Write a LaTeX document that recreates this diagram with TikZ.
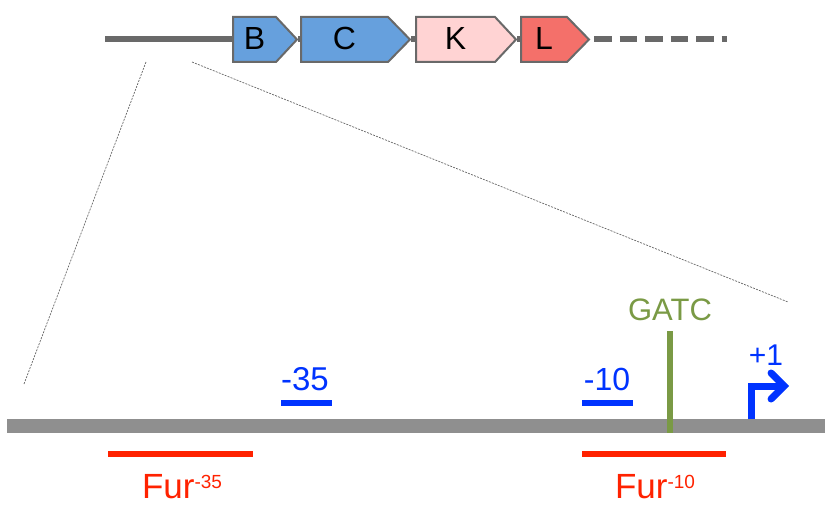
\documentclass[tikz,border=0pt]{standalone}
\usepackage{fontspec}
\setmainfont{Liberation Sans}
\usetikzlibrary{arrows.meta}
\definecolor{geneblue}{RGB}{102,160,221}
\definecolor{genepink}{RGB}{255,211,211}
\definecolor{genered}{RGB}{244,112,106}
\definecolor{geneline}{RGB}{105,105,105}
\definecolor{dnagray}{RGB}{143,143,143}
\definecolor{boxblue}{RGB}{0,51,255}
\definecolor{furred}{RGB}{255,34,0}
\definecolor{damgreen}{RGB}{122,154,69}

\begin{document}
\begin{tikzpicture}[x=1pt,y=-1pt,
  gene/.style={draw=geneline,line width=2pt,line join=miter},
  genelabel/.style={anchor=base,inner sep=0pt,font=\fontsize{32}{36}\selectfont},
  backbone/.style={draw=geneline,line width=6pt},
  zoomline/.style={draw=black!60,line width=0.7pt,dash pattern=on 2pt off 1.2pt},
  dna/.style={draw=dnagray,line width=14pt},
  boxbar/.style={draw=boxblue,line width=6pt},
  furbar/.style={draw=furred,line width=6pt},
  boxlabel/.style={anchor=base,inner sep=0pt,text=boxblue},
  furlabel/.style={anchor=base,inner sep=0pt,text=furred,font=\fontsize{35}{40}\selectfont}]
  \useasboundingbox (0,0) rectangle (825,508);

  % gene map
  \coordinate (start) at (105,39.5);
  \coordinate (dash-end) at (727,39.5);
  \foreach \name/\xa/\xb/\xc/\col in {B/233/276/297/geneblue,C/301/388/410/geneblue,
                                      K/416/495/516/genepink,L/521/567/589/genered}
    {\pgfmathsetmacro{\xm}{(\xa+\xb)/2}
     \draw[gene,fill=\col] (\xa,17) -- (\xb,17) -- (\xc,39.5) -- (\xb,62) -- (\xa,62) -- cycle;
     \coordinate (\name-in) at (\xa-1,39.5);
     \coordinate (\name-out) at (\xc+1,39.5);
     \node[genelabel] (\name) at (\xm,50) {\name};}
  \draw[backbone] (start) -- (B-in);
  \draw[backbone] (B-out) -- (C-in);
  \draw[backbone] (C-out) -- (K-in);
  \draw[backbone] (K-out) -- (L-in);
  \draw[backbone,dash pattern=on 17.5pt off 8pt] ([xshift=4pt]L-out) -- (dash-end);

  % zoom lines
  \coordinate (zl-top) at (146,62);
  \coordinate (zl-bot) at (24,384);
  \coordinate (zr-top) at (192,62);
  \coordinate (zr-bot) at (788,302);
  \draw[zoomline] (zl-top) -- (zl-bot);
  \draw[zoomline] (zr-top) -- (zr-bot);

  % promoter region
  \coordinate (dna-w) at (7,426);
  \coordinate (dna-e) at (825,426);
  \draw[dna] (dna-w) -- (dna-e);

  \node[boxlabel,font=\fontsize{33}{38}\selectfont] (m35) at (305,390) {-35};
  \draw[boxbar] (281,403) -- (332,403);
  \node[boxlabel,font=\fontsize{32}{36}\selectfont] (m10) at (607,390) {-10};
  \draw[boxbar] (582,403) -- (633,403);

  \draw[furbar] (108,454) -- (253,454);
  \node[furlabel] (fur35) at (182,498) {Fur\raisebox{10pt}{\fontsize{19}{20}\selectfont -35}};
  \draw[furbar] (582,454) -- (726,454);
  \node[furlabel] (fur10) at (655,498) {Fur\raisebox{10pt}{\fontsize{19}{20}\selectfont -10}};

  \node[anchor=base,inner sep=0pt,text=damgreen,font=\fontsize{31}{36}\selectfont] (gatc) at (670,320) {GATC};
  \coordinate (gatc-top) at (670,331);
  \coordinate (gatc-bot) at (670,433);
  \draw[draw=damgreen,line width=6pt] (gatc-top) -- (gatc-bot);

  \node[boxlabel,font=\fontsize{30}{34}\selectfont] (tss) at (766,365) {+1};
  \coordinate (tss-base) at (751,419);
  \coordinate (tss-tip) at (789,386);
  \draw[draw=boxblue,line width=7pt,line join=miter,
        -{Straight Barb[length=13pt,width=26pt,line cap=round]}] (tss-base) |- (tss-tip);
\end{tikzpicture}
\end{document}
